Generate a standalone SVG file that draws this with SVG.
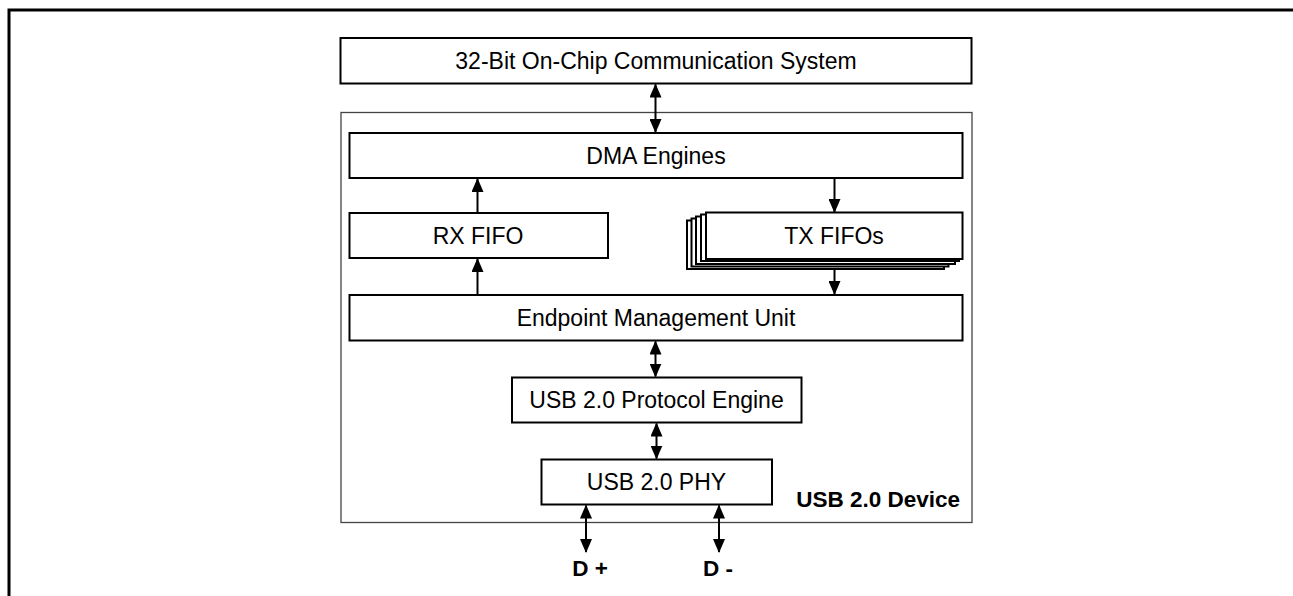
<svg xmlns="http://www.w3.org/2000/svg" width="1293" height="596" viewBox="0 0 1293 596">
<style>
.box{fill:#fff;stroke:#000;stroke-width:2}
.t{font-family:"Liberation Sans",Arial,sans-serif;font-size:23px;fill:#000;text-anchor:middle}
.b{font-family:"Liberation Sans",Arial,sans-serif;font-size:22.5px;font-weight:bold;fill:#000}
.c{stroke:#000;stroke-width:2;fill:none}
</style>
<defs>
<marker id="ah" markerWidth="14" markerHeight="12" viewBox="0 0 14 12" refX="13" refY="6" orient="auto-start-reverse" markerUnits="userSpaceOnUse">
<path d="M0,0 L14,6 L0,12 z" fill="#000"/>
</marker>
</defs>
<rect width="1293" height="596" fill="#fff"/>
<path d="M9,596 V10 H1293" fill="none" stroke="#000" stroke-width="3"/>
<g id="device">
<rect x="341" y="112.5" width="631" height="410" fill="none" stroke="#444" stroke-width="1.3"/>
<text class="b" x="960" y="507" text-anchor="end">USB 2.0 Device</text>
</g>
<g id="ocs">
<rect class="box" x="340.5" y="38" width="631" height="45.5"/>
<text class="t" x="656" y="68.5">32-Bit On-Chip Communication System</text>
</g>
<g id="dma">
<rect class="box" x="349.5" y="133" width="613" height="45"/>
<text class="t" x="656" y="164">DMA Engines</text>
</g>
<g id="rxfifo">
<rect class="box" x="349.5" y="213" width="258.5" height="45"/>
<text class="t" x="478" y="244">RX FIFO</text>
</g>
<g id="txfifos">
<rect class="box" x="687" y="220.5" width="257" height="48.5"/>
<rect class="box" x="691.5" y="218.5" width="257" height="48"/>
<rect class="box" x="696" y="216.5" width="259" height="47.5"/>
<rect class="box" x="701" y="214.5" width="258" height="46.5"/>
<rect class="box" x="706" y="212.5" width="256.5" height="46.5"/>
<text class="t" x="834" y="244">TX FIFOs</text>
</g>
<g id="emu">
<rect class="box" x="349.5" y="295" width="613" height="45.5"/>
<text class="t" x="656" y="326">Endpoint Management Unit</text>
</g>
<g id="protocol">
<rect class="box" x="512" y="377.5" width="289.5" height="45"/>
<text class="t" x="656.5" y="408">USB 2.0 Protocol Engine</text>
</g>
<g id="phy">
<rect class="box" x="541.5" y="459.5" width="230.5" height="45"/>
<text class="t" x="656.5" y="490">USB 2.0 PHY</text>
</g>
<g id="dplus"><text class="b" x="590" y="576" text-anchor="middle">D +</text></g>
<g id="dminus"><text class="b" x="718" y="576" text-anchor="middle">D -</text></g>
<g id="connectors">
<line class="c" x1="655.5" y1="84.5" x2="655.5" y2="132" marker-start="url(#ah)" marker-end="url(#ah)"/>
<line class="c" x1="477.5" y1="212" x2="477.5" y2="179" marker-end="url(#ah)"/>
<line class="c" x1="834.5" y1="179" x2="834.5" y2="212" marker-end="url(#ah)"/>
<line class="c" x1="477.5" y1="294" x2="477.5" y2="259" marker-end="url(#ah)"/>
<line class="c" x1="834.5" y1="269.5" x2="834.5" y2="294" marker-end="url(#ah)"/>
<line class="c" x1="655.5" y1="341.5" x2="655.5" y2="376.5" marker-start="url(#ah)" marker-end="url(#ah)"/>
<line class="c" x1="656.5" y1="423.5" x2="656.5" y2="458.5" marker-start="url(#ah)" marker-end="url(#ah)"/>
<line class="c" x1="586" y1="505.5" x2="586" y2="552" marker-start="url(#ah)" marker-end="url(#ah)"/>
<line class="c" x1="719" y1="505.5" x2="719" y2="552" marker-start="url(#ah)" marker-end="url(#ah)"/>
</g>
</svg>
